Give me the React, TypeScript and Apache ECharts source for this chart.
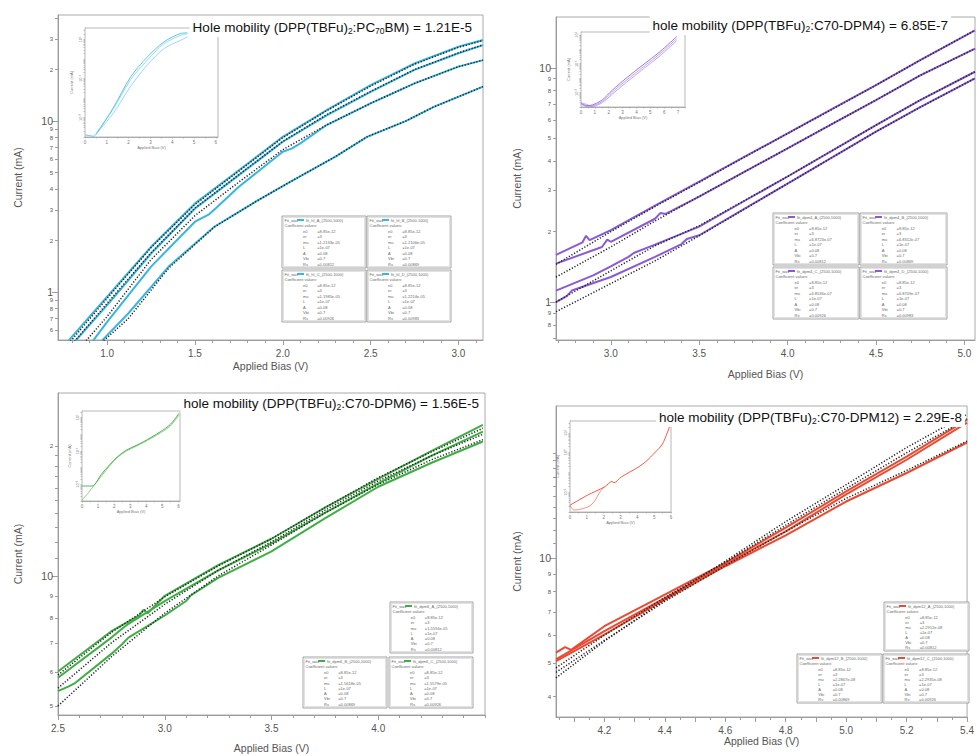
import React, { useEffect, useRef } from 'react';
import * as echarts from 'echarts';

const FONT = "'Liberation Sans', Arial, Helvetica, sans-serif";
const AXIS_COLOR = '#9c9c9c';
const TEXT_COLOR = '#555555';
const FIT_COLOR = '#1e1e1e';

// ---------------- Panel 1 : DPP(TBFu)2:PC70BM (cyan) ----------------
const p1Title = '{n|Hole mobility (DPP(TBFu)}{s|2}{n|:PC}{s|70}{n|BM) = 1.21E-5}';
const p1A_V = [0.78, 1.0, 1.25, 1.5, 1.75, 2.0, 2.25, 2.5, 2.75, 3.0, 3.14];
const p1A_mA = [0.52, 0.94, 1.84, 3.3, 5.16, 8.09, 11.6, 16.2, 21.7, 27.2, 29.8];
const p1B_V = [0.82, 1.0, 1.25, 1.5, 1.75, 2.0, 2.25, 2.5, 2.75, 3.0, 3.14];
const p1B_mA = [0.52, 0.84, 1.68, 3.08, 4.83, 7.57, 10.8, 14.8, 19.9, 24.9, 27.8];
const p1C_V = [0.92, 1.0, 1.25, 1.5, 1.58, 1.62, 1.75, 2.0, 2.05, 2.1, 2.25, 2.5, 2.75, 3.0, 3.14];
const p1C_mA = [0.52, 0.67, 1.41, 2.58, 2.85, 3.1, 4.13, 6.61, 6.9, 7.4, 9.48, 12.7, 16.6, 20.8, 22.7];
const p1D_V = [0.97, 1.12, 1.35, 1.61, 1.85, 2.06, 2.3, 2.48, 2.7, 2.86, 3.14];
const p1D_mA = [0.52, 0.75, 1.41, 2.41, 3.4, 4.52, 6.2, 8.09, 10.0, 12.1, 15.9];
const p1Fit_V = [0.78, 1.0, 1.25, 1.5, 1.75, 2.0, 2.25, 2.5, 2.75, 3.0, 3.14];
const p1FitA_mA = [0.5, 0.92, 1.82, 3.25, 5.1, 8.0, 11.5, 16.0, 21.5, 27.0, 29.6];
const p1FitB_mA = [0.47, 0.86, 1.7, 3.1, 4.86, 7.6, 10.9, 14.9, 20.0, 25.0, 27.9];
const p1FitC_V = [0.88, 1.0, 1.25, 1.5, 1.75, 2.0, 2.25, 2.5, 2.75, 3.0, 3.14];
const p1FitC_mA = [0.52, 0.72, 1.55, 2.8, 4.4, 6.8, 9.5, 12.7, 16.6, 20.8, 22.7];
const p1FitD_V = [0.98, 1.12, 1.35, 1.61, 1.85, 2.06, 2.3, 2.48, 2.7, 2.86, 3.14];
const p1FitD_mA = [0.52, 0.7, 1.38, 2.4, 3.4, 4.52, 6.2, 8.09, 10.0, 12.1, 15.9];
const p1XLabels = [1.0, 1.5, 2.0, 2.5, 3.0];
const p1YLabels_mA = [0.6, 0.7, 0.8, 0.9, 1, 2, 3, 4, 5, 6, 7, 8, 9, 10, 20, 30];
const p1YMajor_mA = [1, 10];
const p1YMinor_mA = [0.6, 0.7, 0.8, 0.9, 2, 3, 4, 5, 6, 7, 8, 9, 20, 30, 40];

// ---------------- Panel 2 : C70-DPM4 (purple) ----------------
const p2Title = '{n|hole mobility (DPP(TBFu)}{s|2}{n|:C70-DPM4) = 6.85E-7}';
const p2A_V = [2.69, 2.84, 2.86, 2.88, 3.0, 3.25, 3.5, 3.75, 4.0, 4.25, 4.5, 4.75, 5.06];
const p2A_mA = [1.59, 1.8, 1.92, 1.84, 2.03, 2.58, 3.27, 4.15, 5.26, 6.67, 8.46, 10.8, 14.5];
const p2B_V = [2.69, 2.95, 2.98, 3.0, 3.25, 3.28, 3.31, 3.5, 3.75, 4.0, 4.25, 4.5, 4.75, 5.06];
const p2B_mA = [1.46, 1.72, 1.85, 1.81, 2.27, 2.4, 2.38, 2.82, 3.58, 4.54, 5.76, 7.3, 9.3, 12.1];
const p2C_V = [2.69, 2.9, 3.0, 3.1, 3.13, 3.25, 3.5, 3.75, 4.0, 4.25, 4.5, 4.75, 5.06];
const p2C_mA = [1.12, 1.3, 1.42, 1.56, 1.62, 1.76, 2.1, 2.69, 3.44, 4.43, 5.7, 7.3, 9.64];
const p2D_V = [2.69, 2.75, 2.78, 3.0, 3.25, 3.4, 3.43, 3.5, 3.75, 4.0, 4.25, 4.5, 4.75, 5.06];
const p2D_mA = [1.0, 1.06, 1.12, 1.28, 1.56, 1.77, 1.86, 1.93, 2.49, 3.21, 4.14, 5.35, 6.8, 9.04];
const p2Fit_V = [2.69, 3.0, 3.25, 3.5, 3.75, 4.0, 4.25, 4.5, 4.75, 5.06];
const p2FitA_mA = [1.45, 2.0, 2.56, 3.25, 4.14, 5.25, 6.65, 8.45, 10.8, 14.5];
const p2FitB_mA = [1.28, 1.72, 2.22, 2.83, 3.58, 4.54, 5.76, 7.3, 9.3, 12.1];
const p2FitC_mA = [1.0, 1.36, 1.74, 2.12, 2.7, 3.44, 4.43, 5.7, 7.3, 9.64];
const p2FitD_mA = [0.91, 1.2, 1.5, 1.92, 2.48, 3.21, 4.14, 5.35, 6.8, 9.04];
const p2XLabels = [3.0, 3.5, 4.0, 4.5, 5.0];
const p2YLabels_mA = [0.8, 0.9, 1, 2, 3, 4, 5, 6, 7, 8, 9, 10];
const p2YMajor_mA = [1, 10];
const p2YMinor_mA = [0.7, 0.8, 0.9, 2, 3, 4, 5, 6, 7, 8, 9];

// ---------------- Panel 3 : C70-DPM6 (green) ----------------
const p3Title = '{n|hole mobility (DPP(TBFu)}{s|2}{n|:C70-DPM6) = 1.56E-5}';
const p3A_V = [2.5, 2.75, 2.88, 2.9, 2.92, 3.0, 3.25, 3.5, 3.75, 4.0, 4.25, 4.49];
const p3A_mA = [6.01, 7.45, 8.1, 8.35, 8.2, 9.0, 10.6, 12.2, 14.4, 16.8, 19.5, 22.4];
const p3B_V = [2.5, 2.75, 2.8, 2.83, 3.0, 3.25, 3.5, 3.75, 4.0, 4.25, 4.49];
const p3B_mA = [5.81, 7.2, 7.55, 7.75, 8.75, 10.3, 11.9, 14.0, 16.4, 19.0, 21.6];
const p3C_V = [2.5, 2.55, 2.58, 2.75, 2.8, 2.83, 3.0, 3.1, 3.12, 3.25, 3.5, 3.75, 4.0, 4.25, 4.49];
const p3C_mA = [5.41, 5.55, 5.65, 6.6, 6.95, 7.2, 8.1, 8.75, 9.0, 9.9, 11.4, 13.6, 16.1, 18.3, 20.5];
const p3Fit_V = [2.5, 2.75, 3.0, 3.25, 3.5, 3.75, 4.0, 4.25, 4.49];
const p3FitA_mA = [5.9, 7.4, 8.95, 10.55, 12.2, 14.4, 16.9, 19.4, 22.0];
const p3FitB_mA = [5.5, 7.0, 8.6, 10.3, 12.0, 14.2, 16.6, 19.0, 21.3];
const p3FitC_mA = [5.0, 6.5, 8.2, 10.0, 11.8, 14.0, 16.3, 18.6, 20.7];
const p3XLabels = [2.5, 3.0, 3.5, 4.0];
const p3YLabels_mA = [5, 6, 7, 8, 9, 10, 20];
const p3YMajor_mA = [10];
const p3YMinor_mA = [5, 6, 7, 8, 9, 11, 12, 13, 14, 15, 16, 17, 18, 19, 20];

// ---------------- Panel 4 : C70-DPM12 (red) ----------------
const p4Title = '{n|hole mobility (DPP(TBFu)}{s|2}{n|:C70-DPM12) = 2.29E-8}';
const p4A_V = [4.04, 4.07, 4.09, 4.2, 4.4, 4.6, 4.8, 5.0, 5.2, 5.4];
const p4A_mA = [5.35, 5.55, 5.45, 6.37, 7.85, 9.68, 12.2, 15.5, 19.5, 24.9];
const p4B_V = [4.04, 4.2, 4.4, 4.6, 4.8, 5.0, 5.2, 5.4];
const p4B_mA = [5.12, 6.17, 7.67, 9.57, 11.9, 15.2, 19.1, 24.4];
const p4C_V = [4.04, 4.2, 4.4, 4.6, 4.8, 5.0, 5.2, 5.4];
const p4C_mA = [5.06, 6.03, 7.59, 9.46, 11.6, 14.5, 17.5, 21.4];
const p4Fit_V = [4.04, 4.2, 4.4, 4.6, 4.8, 5.0, 5.2, 5.4];
const p4FitA_mA = [4.53, 5.77, 7.59, 9.78, 12.7, 16.2, 20.7, 25.8];
const p4FitB_mA = [4.84, 6.0, 7.7, 9.7, 12.4, 15.8, 20.0, 25.0];
const p4FitC_mA = [4.7, 5.8, 7.5, 9.5, 11.9, 14.8, 17.8, 21.6];
const p4XLabels = [4.2, 4.4, 4.6, 4.8, 5.0, 5.2, 5.4];
const p4YLabels_mA = [4, 5, 6, 7, 8, 9, 10];
const p4YMajor_mA = [10];
const p4YMinor_mA = [4, 5, 6, 7, 8, 9, 11, 12, 13, 14, 15, 16, 17, 18, 19, 20];

// ---------------- Insets (full sweep, log current) ----------------
const in1A_V = [0, 0.4, 0.55, 1.32, 2.09, 2.86, 3.63, 4.4, 4.7];
const in1A_mA = [1.3e-4, 1.1e-4, 1.6e-4, 3.5e-3, 0.12, 1.3, 7.8, 21, 22.4];
const in1B_V = [0.55, 1.32, 2.09, 2.86, 3.63, 4.4, 4.7];
const in1B_mA = [1.6e-4, 1.8e-3, 0.04, 0.5, 3.5, 9.5, 13.8];
const in1C_V = [0.5, 1.3, 2.1, 2.9, 3.6, 4.4, 4.7];
const in1C_mA = [1.5e-4, 2.8e-3, 0.09, 1.0, 6.0, 17, 20];

const in2_V = [0, 0.4, 0.83, 1.53, 2.27, 3.26, 4.47, 5.7, 6.9];
const in2A_mA = [1.8e-4, 1.26e-4, 1.4e-4, 3.1e-4, 1.5e-3, 0.01, 0.083, 0.69, 7.6];
const in2B_mA = [1.6e-4, 1.1e-4, 1.2e-4, 2.4e-4, 1.1e-3, 7e-3, 0.058, 0.5, 5.4];
const in2C_mA = [2.0e-4, 1.5e-4, 1.1e-4, 2.0e-4, 8e-4, 5e-3, 0.042, 0.36, 3.9];

const in3A_V = [0, 0.3, 0.65, 1.2, 1.71, 2.2, 2.76, 3.3, 3.82, 4.87, 5.5, 6.03];
const in3A_mA = [7.9e-4, 7.9e-4, 8e-4, 3.98e-3, 0.0145, 0.0447, 0.112, 0.2, 0.355, 1.41, 3.98, 17.8];
const in3B_V = [0, 0.4, 0.8, 1.3, 1.71, 2.2, 2.76, 3.3, 3.82, 4.87, 5.5, 6.03];
const in3B_mA = [1.1e-4, 3.2e-4, 1e-3, 4e-3, 0.0126, 0.04, 0.1, 0.18, 0.32, 1.2, 3.2, 14.1];

const in4A_V = [0, 1.04, 2.05, 2.5, 2.6, 3.05, 4.06, 4.5, 5.06, 5.5, 5.96];
const in4A_mA = [2.2e-3, 7.1e-3, 0.0186, 0.035, 0.03, 0.059, 0.186, 0.35, 1.05, 2.8, 26.9];
const in4B_V = [0, 0.24, 1.24, 1.85, 2.05];
const in4B_mA = [2.2e-3, 1.26e-3, 2.2e-3, 0.0126, 0.0186];

// ---------------- Fit coefficient tables ----------------
const coefKeys = ['e0', 'er', 'mu', 'L', 'A', 'Vbi', 'Rs'];
const p1Mu = ['=1.2133e-05', '=1.2106e-05', '=1.1985e-05', '=1.2214e-05'];
const p2Mu = ['=6.8723e-07', '=6.8312e-07', '=6.8536e-07', '=6.8709e-07'];
const p3Mu = ['=1.5594e-05', '=1.5618e-05', '=1.5579e-05'];
const p4Mu = ['=2.2912e-08', '=2.2867e-08', '=2.2935e-08'];
const p1FitNames = ['fit_hl_A_(2500,1000)', 'fit_hl_B_(2500,1000)', 'fit_hl_C_(2500,1000)', 'fit_hl_D_(2500,1000)'];
const p2FitNames = ['fit_dpm4_A_(2500,1000)', 'fit_dpm4_B_(2500,1000)', 'fit_dpm4_C_(2500,1000)', 'fit_dpm4_D_(2500,1000)'];
const p3FitNames = ['fit_dpm6_A_(2500,1000)', 'fit_dpm6_B_(2500,1000)', 'fit_dpm6_C_(2500,1000)'];
const p4FitNames = ['fit_dpm12_A_(2500,1000)', 'fit_dpm12_B_(2500,1000)', 'fit_dpm12_C_(2500,1000)'];

// ---------------- helpers ----------------
const lg = (v: number) => Math.log10(v);
const steps = (a: number, b: number, d: number) => {
  const out: number[] = [];
  for (let i = 0; a + i * d <= b + 1e-9; i++) out.push(+(a + i * d).toFixed(4));
  return out;
};
const logMinorTicks = (lo: number, hi: number) => {
  const out: number[] = [];
  for (let e = Math.floor(lo) - 1; e <= Math.ceil(hi); e++) {
    for (let k = 1; k <= 9; k++) {
      const v = Math.log10(k * Math.pow(10, e));
      if (v >= lo - 1e-9 && v <= hi + 1e-9) out.push(v);
    }
  }
  return out;
};
const SUP: Record<string, string> = { '-': '⁻', '0': '⁰', '1': '¹', '2': '²', '3': '³', '4': '⁴', '5': '⁵', '6': '⁶' };
const supStr = (n: number) => String(n).split('').map((c) => SUP[c] || c).join('');

const yLabelFmt = (v: number) => {
  const e = Math.round(v);
  if (Math.abs(v - e) < 1e-6) return `{big|${Math.round(Math.pow(10, e) * 1000) / 1000}}`;
  const f = Math.floor(v + 1e-9);
  return `{small|${Math.round(Math.pow(10, v - f))}}`;
};

type Curve = { v: number[]; mA: number[] };

interface Panel {
  box: { left: number; top: number; width: number; height: number };
  xMin: number; xMax: number; yMin_mA: number; yMax_mA: number;
  xLabels: number[]; xMajor: number[]; xMinor: number[];
  yLabels: number[]; yMajor: number[]; yMinor: number[];
  xNameGap: number; yNameGap: number;
  color: string; curves: Curve[]; fits: Curve[];
  title: string; titleRight: number; titleTop: number;
}

const panels: Panel[] = [
  {
    box: { left: 58, top: 15, width: 425, height: 325 },
    xMin: 0.72, xMax: 3.14, yMin_mA: 0.5248, yMax_mA: 41.69,
    xLabels: p1XLabels, xMajor: p1XLabels, xMinor: steps(0.8, 3.1, 0.1),
    yLabels: p1YLabels_mA, yMajor: p1YMajor_mA, yMinor: p1YMinor_mA,
    xNameGap: 20, yNameGap: 35, color: '#38b6de',
    curves: [{ v: p1A_V, mA: p1A_mA }, { v: p1B_V, mA: p1B_mA }, { v: p1C_V, mA: p1C_mA }, { v: p1D_V, mA: p1D_mA }],
    fits: [{ v: p1Fit_V, mA: p1FitA_mA }, { v: p1Fit_V, mA: p1FitB_mA }, { v: p1FitC_V, mA: p1FitC_mA }, { v: p1FitD_V, mA: p1FitD_mA }],
    title: p1Title, titleRight: 502, titleTop: 17,
  },
  {
    box: { left: 556, top: 17, width: 419, height: 323 },
    xMin: 2.69, xMax: 5.06, yMin_mA: 0.6887, yMax_mA: 16.52,
    xLabels: p2XLabels, xMajor: p2XLabels, xMinor: steps(2.7, 5.0, 0.1),
    yLabels: p2YLabels_mA, yMajor: p2YMajor_mA, yMinor: p2YMinor_mA,
    xNameGap: 28, yNameGap: 34, color: '#8a5ad6',
    curves: [{ v: p2A_V, mA: p2A_mA }, { v: p2B_V, mA: p2B_mA }, { v: p2C_V, mA: p2C_mA }, { v: p2D_V, mA: p2D_mA }],
    fits: [{ v: p2Fit_V, mA: p2FitA_mA }, { v: p2Fit_V, mA: p2FitB_mA }, { v: p2Fit_V, mA: p2FitC_mA }, { v: p2Fit_V, mA: p2FitD_mA }],
    title: p2Title, titleRight: 26, titleTop: 15,
  },
  {
    box: { left: 58, top: 393, width: 427, height: 322 },
    xMin: 2.5, xMax: 4.5, yMin_mA: 4.764, yMax_mA: 26.55,
    xLabels: p3XLabels, xMajor: p3XLabels, xMinor: steps(2.5, 4.5, 0.1),
    yLabels: p3YLabels_mA, yMajor: p3YMajor_mA, yMinor: p3YMinor_mA,
    xNameGap: 27, yNameGap: 35, color: '#3fae45',
    curves: [{ v: p3A_V, mA: p3A_mA }, { v: p3B_V, mA: p3B_mA }, { v: p3C_V, mA: p3C_mA }],
    fits: [{ v: p3Fit_V, mA: p3FitA_mA }, { v: p3Fit_V, mA: p3FitB_mA }, { v: p3Fit_V, mA: p3FitC_mA }],
    title: p3Title, titleRight: 495, titleTop: 393,
  },
  {
    box: { left: 556, top: 406, width: 423, height: 311 },
    xMin: 4.04, xMax: 5.4, yMin_mA: 3.499, yMax_mA: 27.23,
    xLabels: p4XLabels, xMajor: steps(4.1, 5.4, 0.1), xMinor: steps(4.05, 5.4, 0.05),
    yLabels: p4YLabels_mA, yMajor: p4YMajor_mA, yMinor: p4YMinor_mA,
    xNameGap: 16, yNameGap: 34, color: '#eb4a32',
    curves: [{ v: p4A_V, mA: p4A_mA }, { v: p4B_V, mA: p4B_mA }, { v: p4C_V, mA: p4C_mA }],
    fits: [{ v: p4Fit_V, mA: p4FitA_mA }, { v: p4Fit_V, mA: p4FitB_mA }, { v: p4Fit_V, mA: p4FitC_mA }],
    title: p4Title, titleRight: 12, titleTop: 407,
  },
];

interface Inset {
  box: { left: number; top: number; width: number; height: number };
  xMax: number; yLo: number; yHi: number; xLabels: number[]; yLabelExp: number[];
  color: string; curves: Curve[]; xNameGap: number; yNameGap: number;
}

const insets: Inset[] = [
  { box: { left: 85, top: 28, width: 133, height: 109 }, xMax: 6.1, yLo: -4, yHi: 1.6, xLabels: [0, 1, 2, 3, 4, 5, 6], yLabelExp: [-3, -1, 1], color: '#5cc5e8',
    curves: [{ v: in1A_V, mA: in1A_mA }, { v: in1C_V, mA: in1C_mA }, { v: in1B_V, mA: in1B_mA }], xNameGap: 8, yNameGap: 12 },
  { box: { left: 581, top: 32, width: 104, height: 75 }, xMax: 7.5, yLo: -4, yHi: 1.2, xLabels: [0, 1, 2, 3, 4, 5, 6, 7], yLabelExp: [-3, -1, 1], color: '#9d75e2',
    curves: [{ v: in2_V, mA: in2A_mA }, { v: in2_V, mA: in2B_mA }, { v: in2_V, mA: in2C_mA }], xNameGap: 8, yNameGap: 11 },
  { box: { left: 82, top: 411, width: 98, height: 90 }, xMax: 6.1, yLo: -4, yHi: 1.4, xLabels: [0, 1, 2, 3, 4, 5, 6], yLabelExp: [-3, -1, 1], color: '#4bb44b',
    curves: [{ v: in3A_V, mA: in3A_mA }, { v: in3B_V, mA: in3B_mA }], xNameGap: 8, yNameGap: 11 },
  { box: { left: 570, top: 421, width: 101, height: 91 }, xMax: 6.0, yLo: -3, yHi: 1.6, xLabels: [0, 1, 2, 3, 4, 5, 6], yLabelExp: [-2, 0, 1], color: '#ee5a44',
    curves: [{ v: in4A_V, mA: in4A_mA }, { v: in4B_V, mA: in4B_mA }], xNameGap: 8, yNameGap: 11 },
];

interface TableSet { color: string; names: string[]; mu: string[]; rects: number[][] }
const tables: TableSet[] = [
  { color: '#38b6de', names: p1FitNames, mu: p1Mu, rects: [[282, 216, 84, 52], [367, 216, 84, 52], [282, 270, 84, 52], [367, 270, 84, 52]] },
  { color: '#8a5ad6', names: p2FitNames, mu: p2Mu, rects: [[773, 213, 86, 52], [860, 213, 87, 52], [773, 267, 86, 52], [860, 267, 87, 52]] },
  { color: '#3fae45', names: p3FitNames, mu: p3Mu, rects: [[390, 602, 83, 51], [303, 657, 84, 51], [389, 657, 84, 51]] },
  { color: '#eb4a32', names: p4FitNames, mu: p4Mu, rects: [[884, 602, 85, 49], [797, 654, 85, 49], [883, 654, 86, 49]] },
];

const tinyText = (text: string, x: number, y: number, fill = '#6a6a6a') => ({
  type: 'text', x, y, silent: true,
  style: { text, fontSize: 4, fontFamily: FONT, fill, verticalAlign: 'top', align: 'left' },
});

function coefBox(r: number[], color: string, name: string, mu: string, idx: number) {
  const [x, y, w, h] = r;
  const vals = ['=8.85e-12', '=3', mu, '=1e-07', '=0.08', '=0.7', `=0.00${812 + idx * 57}`];
  const rowH = (h - 14) / 7;
  const children: any[] = [
    { type: 'rect', shape: { x: 0, y: 0, width: w, height: h }, style: { fill: '#fff', stroke: '#8e8e8e', lineWidth: 0.8 } },
    { type: 'rect', shape: { x: 1.5, y: 1.5, width: w - 3, height: h - 3 }, style: { fill: 'none', stroke: '#c4c4c4', lineWidth: 0.5 } },
    tinyText('Fit_wav:', 2.5, 2),
    { type: 'rect', shape: { x: 15, y: 3, width: 7, height: 2 }, style: { fill: color } },
    tinyText(name, 24, 2),
    tinyText('Coefficient values:', 2.5, 7.5),
  ];
  coefKeys.forEach((k, i) => {
    children.push(tinyText(k, w * 0.25, 13.5 + i * rowH));
    children.push(tinyText(vals[i], w * 0.42, 13.5 + i * rowH));
  });
  return { type: 'group', x, y, children };
}

function buildOption() {
  const grid: any[] = [];
  const xAxis: any[] = [];
  const yAxis: any[] = [];
  const series: any[] = [];
  const title: any[] = [];

  panels.forEach((p) => {
    const gi = grid.length;
    grid.push({ ...p.box, show: true, borderColor: '#aaaaaa', borderWidth: 1, backgroundColor: 'transparent' });
    const yMin = lg(p.yMin_mA);
    const yMax = lg(p.yMax_mA);
    const xi = xAxis.length;
    xAxis.push({
      gridIndex: gi, type: 'value', min: p.xMin, max: p.xMax, position: 'bottom',
      name: 'Applied Bias (V)', nameLocation: 'middle', nameGap: p.xNameGap,
      nameTextStyle: { color: TEXT_COLOR, fontSize: 10.5, fontFamily: FONT },
      axisLine: { show: true, onZero: false, lineStyle: { color: AXIS_COLOR, width: 1 } },
      axisTick: { show: true, customValues: p.xMajor, length: 5, lineStyle: { color: AXIS_COLOR } },
      axisLabel: { show: true, customValues: p.xLabels, formatter: (v: number) => v.toFixed(1), fontSize: 10, color: TEXT_COLOR, fontFamily: FONT, margin: 8 },
      splitLine: { show: false },
    });
    xAxis.push({
      gridIndex: gi, type: 'value', min: p.xMin, max: p.xMax, position: 'bottom',
      axisLine: { show: false, onZero: false },
      axisTick: { show: true, customValues: p.xMinor, length: 3, lineStyle: { color: AXIS_COLOR } },
      axisLabel: { show: false }, splitLine: { show: false },
    });
    const yi = yAxis.length;
    yAxis.push({
      gridIndex: gi, type: 'value', min: yMin, max: yMax, position: 'left',
      name: 'Current (mA)', nameLocation: 'middle', nameGap: p.yNameGap,
      nameTextStyle: { color: TEXT_COLOR, fontSize: 10.5, fontFamily: FONT },
      axisLine: { show: true, onZero: false, lineStyle: { color: AXIS_COLOR, width: 1 } },
      axisTick: { show: true, customValues: p.yMajor.map(lg), length: 6, lineStyle: { color: AXIS_COLOR } },
      axisLabel: {
        show: true, customValues: p.yLabels.map(lg), formatter: yLabelFmt, margin: 5, color: TEXT_COLOR,
        rich: { big: { fontSize: 10.5, color: TEXT_COLOR, fontFamily: FONT }, small: { fontSize: 6, color: TEXT_COLOR, fontFamily: FONT } },
      },
      splitLine: { show: false },
    });
    yAxis.push({
      gridIndex: gi, type: 'value', min: yMin, max: yMax, position: 'left',
      axisLine: { show: false, onZero: false },
      axisTick: { show: true, customValues: p.yMinor.map(lg), length: 3, lineStyle: { color: AXIS_COLOR } },
      axisLabel: { show: false }, splitLine: { show: false },
    });
    p.curves.forEach((c) => {
      series.push({
        type: 'line', xAxisIndex: xi, yAxisIndex: yi, silent: true, showSymbol: false, z: 2,
        data: c.v.map((v, i) => [v, lg(c.mA[i])]),
        lineStyle: { color: p.color, width: 2 },
      });
    });
    p.fits.forEach((c) => {
      series.push({
        type: 'line', xAxisIndex: xi, yAxisIndex: yi, silent: true, showSymbol: false, z: 3,
        data: c.v.map((v, i) => [v, lg(c.mA[i])]),
        lineStyle: { color: FIT_COLOR, width: 1.5, type: [1.2, 1.8] },
      });
    });
    title.push({
      text: p.title, right: p.titleRight, top: p.titleTop, backgroundColor: '#ffffff', padding: [2, 3],
      textStyle: {
        fontWeight: 'normal',
        rich: {
          n: { fontSize: 13.5, lineHeight: 16, color: '#111', fontFamily: FONT, fontWeight: 'normal', verticalAlign: 'middle' },
          s: { fontSize: 8.5, lineHeight: 6, color: '#111', fontFamily: FONT, fontWeight: 'normal', verticalAlign: 'bottom' },
        },
      },
    });
  });

  insets.forEach((q) => {
    const gi = grid.length;
    grid.push({ ...q.box, show: true, borderColor: '#a6a6a6', borderWidth: 0.8, backgroundColor: '#ffffff', z: 1 });
    const xi = xAxis.length;
    xAxis.push({
      gridIndex: gi, type: 'value', min: 0, max: q.xMax, position: 'bottom',
      name: 'Applied Bias (V)', nameLocation: 'middle', nameGap: q.xNameGap,
      nameTextStyle: { color: '#777', fontSize: 4, fontFamily: FONT },
      axisLine: { show: true, onZero: false, lineStyle: { color: AXIS_COLOR, width: 0.8 } },
      axisTick: { show: true, customValues: steps(0, q.xMax, 0.5), length: 1.5, lineStyle: { color: AXIS_COLOR, width: 0.6 } },
      axisLabel: { show: true, customValues: q.xLabels, fontSize: 4.5, color: '#777', fontFamily: FONT, margin: 2.5 },
      splitLine: { show: false },
    });
    const yi = yAxis.length;
    yAxis.push({
      gridIndex: gi, type: 'value', min: q.yLo, max: q.yHi, position: 'left',
      name: 'Current (mA)', nameLocation: 'middle', nameGap: q.yNameGap,
      nameTextStyle: { color: '#777', fontSize: 4, fontFamily: FONT },
      axisLine: { show: true, onZero: false, lineStyle: { color: AXIS_COLOR, width: 0.8 } },
      axisTick: { show: true, customValues: logMinorTicks(q.yLo, q.yHi), length: 1.5, lineStyle: { color: AXIS_COLOR, width: 0.6 } },
      axisLabel: { show: true, customValues: q.yLabelExp, formatter: (v: number) => `10${supStr(Math.round(v))}`, rotate: 90, fontSize: 4, color: '#777', fontFamily: FONT, margin: 2.5 },
      splitLine: { show: false },
    });
    q.curves.forEach((c, k) => {
      series.push({
        type: 'line', xAxisIndex: xi, yAxisIndex: yi, silent: true, showSymbol: false, z: 4, smooth: 0.3,
        data: c.v.map((v, i) => [v, lg(c.mA[i])]),
        lineStyle: { color: q.color, width: k === 0 ? 1 : 0.8, opacity: k === 0 ? 1 : 0.8 },
      });
    });
  });

  const graphicEls: any[] = [];
  tables.forEach((t) => {
    t.rects.forEach((r, i) => graphicEls.push(coefBox(r, t.color, t.names[i], t.mu[i], i)));
  });

  return {
    animation: false,
    backgroundColor: '#ffffff',
    title,
    grid,
    xAxis,
    yAxis,
    series,
    graphic: { elements: graphicEls },
  };
}

export default function App() {
  const ref = useRef<HTMLDivElement>(null);
  useEffect(() => {
    document.body.style.margin = '0';
    const chart = echarts.init(ref.current as HTMLDivElement, null, { renderer: 'svg' });
    chart.setOption(buildOption() as any);
    return () => chart.dispose();
  }, []);
  return <div ref={ref} style={{ width: 977, height: 756, background: '#fff' }} />;
}
